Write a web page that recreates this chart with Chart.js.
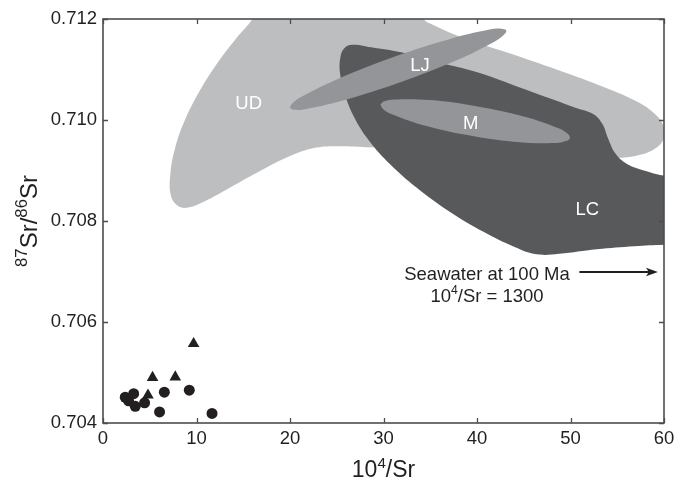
<!DOCTYPE html>
<html>
<head>
<meta charset="utf-8">
<script src="https://cdn.jsdelivr.net/npm/chart.js@4"></script>
<style>
  html, body { margin: 0; padding: 0; background: #ffffff; }
  #wrap { width: 689px; height: 494px; }
</style>
</head>
<body>
<div id="wrap"><canvas id="c" width="689" height="494"></canvas></div>
<script>
// ---- tick labels ----
const xTicks = [0, 10, 20, 30, 40, 50, 60];
const yTicks = [0.704, 0.706, 0.708, 0.710, 0.712];

// ---- sample points ----
const circleX = [2.38, 2.74, 3.28, 3.45, 4.45, 6.05, 6.56, 9.23, 11.66];
const circleY = [0.70451, 0.70444, 0.70458, 0.70433, 0.70440, 0.70422, 0.70461, 0.70465, 0.70419];
const triangleX = [4.81, 5.30, 7.73, 9.69];
const triangleY = [0.70455, 0.70490, 0.70491, 0.70557];

// ---- field outlines (UD, LC, LJ, M) ----
const udX = [17.0, 15.98, 14.17, 12.16, 10.35, 8.74, 7.73, 7.21, 7.25, 7.93, 8.94, 10.55, 13.37, 16.59, 19.81, 22.22, 24.64, 28.66, 39.9, 52.0, 54.83, 57.25, 59.26, 60.07, 59.86, 58.86, 56.84, 53.62, 48.79, 43.16, 38.33, 35.1, 34.3, 33.9, 17.0];
const udY = [0.71236, 0.71200, 0.71160, 0.71111, 0.71058, 0.70999, 0.70946, 0.70894, 0.70851, 0.70831, 0.70826, 0.70836, 0.70864, 0.70897, 0.70927, 0.70943, 0.70948, 0.70946, 0.70940, 0.70930, 0.70925, 0.70930, 0.70946, 0.70969, 0.70992, 0.71015, 0.71039, 0.71065, 0.71098, 0.71134, 0.71164, 0.71190, 0.71200, 0.71236, 0.71236];

const lcX = [62.5, 60.07, 58.05, 56.04, 54.83, 54.03, 53.42, 52.42, 50.60, 45.97, 39.94, 35.91, 31.88, 28.66, 26.65, 25.76, 25.36, 25.36, 25.85, 26.85, 28.46, 30.68, 33.49, 37.12, 40.74, 43.96, 46.38, 48.79, 52.82, 56.84, 60.07, 62.5, 62.5];
const lcY = [0.70890, 0.70890, 0.70899, 0.70913, 0.70933, 0.70963, 0.70992, 0.71012, 0.71024, 0.71055, 0.71095, 0.71114, 0.71134, 0.71144, 0.71149, 0.71141, 0.71121, 0.71091, 0.71052, 0.71006, 0.70959, 0.70913, 0.70867, 0.70818, 0.70778, 0.70749, 0.70734, 0.70735, 0.70744, 0.70750, 0.70753, 0.70754, 0.70890];

const ljX = [19.97, 20.25, 21.28, 25.35, 31.08, 36.94, 41.35, 42.62, 43.13, 42.86, 41.82, 37.75, 32.02, 26.16, 21.75, 20.48, 19.97];
const ljY = [0.710240, 0.710327, 0.710463, 0.710832, 0.711248, 0.711596, 0.711790, 0.711808, 0.711770, 0.711683, 0.711547, 0.711178, 0.710762, 0.710412, 0.710220, 0.710202, 0.710240];

const mX = [29.66, 30.09, 31.17, 34.97, 40.07, 45.10, 48.72, 49.66, 49.94, 49.51, 48.44, 44.62, 39.52, 34.49, 30.89, 29.94, 29.66];
const mY = [0.710307, 0.710370, 0.710408, 0.710394, 0.710269, 0.710065, 0.709838, 0.709733, 0.709646, 0.709582, 0.709545, 0.709558, 0.709683, 0.709887, 0.710115, 0.710220, 0.710307];

// ---- field labels ----
const regionNames = ['UD', 'LJ', 'M', 'LC'];
const regionLabelX = [15.58, 33.9, 39.33, 51.8];
const regionLabelY = [0.71031, 0.71108, 0.70992, 0.70822];

// ---- seawater annotation ----
const seawaterLines = ['Seawater at 100 Ma', '10|4|/Sr = 1300'];
const seawaterTextX = 41.07;
const seawaterTextY = [0.70684, 0.70640];
const arrowX = [50.95, 59.35];
const arrowY = 0.70699;

const FONT = '"Liberation Sans", Arial, Helvetica, sans-serif';
const INK = '#231f20';
const FRAME = '#4d4d4f';

function pts(xs, ys) { return xs.map((v, i) => ({ x: v, y: ys[i] })); }

function shape(label, xs, ys, color, order) {
  return {
    type: 'line', label, data: pts(xs, ys), order,
    backgroundColor: color, borderColor: 'rgba(0,0,0,0)', borderWidth: 0,
    fill: 'shape', tension: 0.4, pointRadius: 0, pointHoverRadius: 0, showLine: true
  };
}

// draw text with a raised "|sup|" part
function richText(ctx, str, cx, baseY, size, align, supRatio) {
  const r = supRatio || 0.66;
  const parts = str.split('|');
  const pieces = parts.map((t, i) => ({ t, sup: i % 2 === 1 }));
  let total = 0;
  pieces.forEach(p => { ctx.font = (p.sup ? size * r : size) + 'px ' + FONT; p.w = ctx.measureText(p.t).width; total += p.w; });
  let x = align === 'center' ? cx - total / 2 : cx;
  ctx.textAlign = 'left';
  ctx.textBaseline = 'alphabetic';
  pieces.forEach(p => {
    ctx.font = (p.sup ? size * r : size) + 'px ' + FONT;
    ctx.fillText(p.t, x, p.sup ? baseY - size * 0.40 : baseY);
    x += p.w;
  });
}

const overlay = {
  id: 'overlay',
  afterDatasetsDraw(chart) {
    const { ctx, chartArea: a, scales: { x, y } } = chart;
    ctx.save();
    // field labels
    ctx.fillStyle = '#ffffff';
    ctx.font = '18.5px ' + FONT;
    ctx.textAlign = 'center';
    ctx.textBaseline = 'middle';
    regionNames.forEach((n, i) => ctx.fillText(n, x.getPixelForValue(regionLabelX[i]), y.getPixelForValue(regionLabelY[i])));

    // frame
    ctx.strokeStyle = FRAME;
    ctx.lineWidth = 1.6;
    ctx.strokeRect(a.left, a.top, a.right - a.left, a.bottom - a.top);
    // inward ticks
    ctx.lineWidth = 1.3;
    ctx.beginPath();
    x.ticks.forEach(t => {
      const px = Math.round(x.getPixelForValue(t.value)) + 0.5;
      ctx.moveTo(px, a.bottom); ctx.lineTo(px, a.bottom - 5);
      ctx.moveTo(px, a.top); ctx.lineTo(px, a.top + 5);
    });
    y.ticks.forEach(t => {
      const py = Math.round(y.getPixelForValue(t.value)) + 0.5;
      ctx.moveTo(a.left, py); ctx.lineTo(a.left + 5, py);
      ctx.moveTo(a.right, py); ctx.lineTo(a.right - 5, py);
    });
    ctx.stroke();

    // seawater annotation
    ctx.fillStyle = INK;
    const tx = x.getPixelForValue(seawaterTextX);
    seawaterLines.forEach((s, i) => richText(ctx, s, tx, y.getPixelForValue(seawaterTextY[i]), 18.5, 'center'));
    const ax1 = x.getPixelForValue(arrowX[0]), ax2 = x.getPixelForValue(arrowX[1]);
    const ay = y.getPixelForValue(arrowY);
    ctx.strokeStyle = INK;
    ctx.lineWidth = 2;
    ctx.beginPath(); ctx.moveTo(ax1, ay); ctx.lineTo(ax2 - 8, ay); ctx.stroke();
    ctx.beginPath();
    ctx.moveTo(ax2, ay);
    ctx.lineTo(ax2 - 12, ay - 4.2);
    ctx.lineTo(ax2 - 9, ay);
    ctx.lineTo(ax2 - 12, ay + 4.2);
    ctx.closePath(); ctx.fill();

    // axis titles
    const cxMid = (a.left + a.right) / 2;
    richText(ctx, '10|4|/Sr', cxMid, 477, 23, 'center');
    ctx.save();
    ctx.translate(37, (a.top + a.bottom) / 2);
    ctx.rotate(-Math.PI / 2);
    richText(ctx, '|87|Sr/|86|Sr', 0, 0, 24, 'center', 0.7);
    ctx.restore();
    ctx.restore();
  }
};

new Chart(document.getElementById('c'), {
  type: 'scatter',
  data: {
    datasets: [
      { label: 'circles', data: pts(circleX, circleY), pointStyle: 'circle', pointRadius: 5.5, pointHoverRadius: 5.5, backgroundColor: INK, borderWidth: 0, order: 0 },
      { label: 'triangles', data: pts(triangleX, triangleY), pointStyle: 'triangle', pointRadius: 6.7, pointHoverRadius: 6.7, backgroundColor: INK, borderWidth: 0, order: 0 },
      shape('M', mX, mY, '#939598', 1),
      shape('LJ', ljX, ljY, '#939598', 1),
      shape('LC', lcX, lcY, '#58595b', 2),
      shape('UD', udX, udY, '#bcbec0', 3)
    ]
  },
  options: {
    responsive: false,
    devicePixelRatio: 1,
    animation: false,
    events: [],
    layout: { padding: { top: 19, right: 25, left: 0, bottom: 0 } },
    elements: { line: { capBezierPoints: false } },
    plugins: { legend: { display: false }, tooltip: { enabled: false } },
    scales: {
      x: {
        type: 'linear', min: 0, max: 60,
        afterBuildTicks: s => { s.ticks = xTicks.map(v => ({ value: v })); },
        afterFit: s => { s.height = 71; },
        grid: { display: false, drawTicks: false },
        border: { display: false },
        ticks: { color: INK, font: { size: 18.5, family: FONT }, padding: 5, maxRotation: 0, autoSkip: false, callback: v => String(v) }
      },
      y: {
        type: 'linear', min: 0.704, max: 0.712,
        afterBuildTicks: s => { s.ticks = yTicks.map(v => ({ value: v })); },
        afterFit: s => { s.width = 103; },
        grid: { display: false, drawTicks: false },
        border: { display: false },
        ticks: { color: INK, font: { size: 18.5, family: FONT }, padding: 6, autoSkip: false, callback: v => Number(v).toFixed(3) }
      }
    }
  },
  plugins: [overlay]
});
</script>
</body>
</html>
